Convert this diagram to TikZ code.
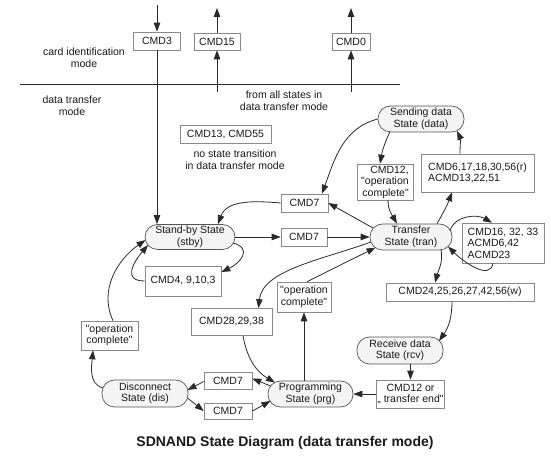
\documentclass[tikz,border=0pt]{standalone}
\usepackage{fontspec}
\newfontfamily\diag{Liberation Sans}
\usetikzlibrary{arrows.meta,calc}
\definecolor{boxgray}{HTML}{8A8A8A}
\definecolor{stategray}{HTML}{555555}
\definecolor{statefill}{HTML}{F4F4F4}
\definecolor{linecol}{HTML}{2A2A2A}
\begin{document}
\begin{tikzpicture}[x=1pt,y=1pt,
  every node/.style={font=\diag\fontsize{10.5}{11.5}\selectfont, text=black!90, inner sep=1pt},
  box/.style={draw=boxgray, line width=0.6pt, align=center},
  state/.style={rectangle, rounded corners=12.5pt, draw=stategray, fill=statefill, line width=0.7pt, align=center},
  arr/.style={draw=linecol, line width=0.8pt, -{Triangle[length=9pt,width=6.5pt]}},
  ln/.style={draw=linecol, line width=0.8pt}]
\useasboundingbox (0,0) rectangle (551,465);

% boxes
\node[box,minimum width=47pt,minimum height=18pt] (cmd3) at (157,424) {CMD3};
\node[box,minimum width=46pt,minimum height=17pt] (cmd15) at (217,423.5) {CMD15};
\node[box,minimum width=38pt,minimum height=17pt] (cmd0) at (351,423.5) {CMD0};
\node[box,minimum width=91pt,minimum height=18pt] (cmd1355) at (225.5,330.5) {CMD13, CMD55};
\node[box,align=right,minimum width=56pt,minimum height=36pt] (cmd12a) at (385,283) {CMD12,\\"operation\\complete"};
\node[box,align=left,minimum width=113pt,minimum height=38pt] (cmd6) at (477.5,292) {CMD6,17,18,30,56(r)\\ACMD13,22,51};
\node[box,align=left,minimum width=82pt,minimum height=40pt] (cmd16) at (503,222) {CMD16, 32, 33\\ACMD6,42\\ACMD23};
\node[box,minimum width=148pt,minimum height=18pt] (cmd24) at (460,173) {CMD24,25,26,27,42,56(w)};
\node[box,minimum width=47pt,minimum height=18pt] (cmd7u) at (304.5,262) {CMD7};
\node[box,minimum width=46pt,minimum height=18pt] (cmd7m) at (304,228) {CMD7};
\node[box,minimum width=76pt,minimum height=30pt] (cmd4) at (183,184) {CMD4, 9,10,3};
\node[box,minimum width=57pt,minimum height=29pt] (opcL) at (109.5,129.5) {"operation\\complete"};
\node[box,minimum width=81pt,minimum height=27pt] (cmd28) at (231.5,143) {CMD28,29,38};
\node[box,minimum width=54pt,minimum height=30pt] (opcM) at (304,168) {"operation\\complete"};
\node[box,minimum width=65pt,minimum height=28pt] (cmd12b) at (410.5,71) {CMD12 or\\„ transfer end"};
\node[box,minimum width=48pt,minimum height=17pt] (cmd7a) at (228,84.5) {CMD7};
\node[box,minimum width=48pt,minimum height=16pt] (cmd7b) at (228,54) {CMD7};

% states
\node[state,minimum width=86pt,minimum height=26pt] (sending) at (421,346) {Sending data\\State (data)};
\node[state,minimum width=82pt,minimum height=26pt] (transfer) at (411,228) {Transfer\\State (tran)};
\node[state,minimum width=90pt,minimum height=25pt] (standby) at (190,228) {Stand-by State\\(stby)};
\node[state,minimum width=86pt,minimum height=27pt] (receive) at (400,114.5) {Receive data\\State (rcv)};
\node[state,minimum width=85pt,minimum height=26pt] (prog) at (310.5,71) {Programming\\State (prg)};
\node[state,minimum width=86pt,minimum height=27pt] (dis) at (145,71.5) {Disconnect\\State (dis)};

% labels
\node[align=center] (cardid) at (84,407) {card identification\\mode};
\node[align=center] (dtm) at (72,359) {data transfer\\mode};
\node[align=center] (fromall) at (284,364) {from all states in\\data transfer mode};
\node[align=center] (nostate) at (235,305) {no state transition\\in data transfer mode};
\node[font=\diag\bfseries\fontsize{14}{16}\selectfont] (title) at (285,22) {SDNAND State Diagram (data transfer mode)};

% free ends
\coordinate (t3) at (157,460);
\coordinate (f15) at (217,373); \coordinate (t15) at (217,457);
\coordinate (f0) at (351,373); \coordinate (t0) at (351,457);
\coordinate (hl) at (20,381); \coordinate (hr) at (400,381);

% connectors
\draw[ln] (hl) -- (hr);
\draw[arr] (t3) -- (cmd3.north);
\draw[arr] (cmd3.south) -- (cmd3.south |- standby.north);
\draw[arr] (f15) -- (cmd15.south);
\draw[arr] (cmd15.north) -- (t15);
\draw[arr] (f0) -- (cmd0.south);
\draw[arr] (cmd0.north) -- (t0);

\draw[arr] (sending.west) to[out=195,in=70] ([xshift=17.5pt]cmd7u.north);
\draw[arr] (cmd7u.west) to[out=175,in=70] ([xshift=28pt]standby.north);
\draw[arr] ([shift={(-38,9)}]transfer.center) -- (cmd7u.east);
\draw[arr] (standby.east) -- (cmd7m.west);
\draw[arr] (cmd7m.east) -- (transfer.west);
\draw[arr] ([shift={(-31,-12.5)}]sending.center) to[out=245,in=80] ([xshift=-5pt]cmd12a.north);
\draw[arr] ([xshift=3pt]cmd12a.south) to[out=-90,in=120] ([xshift=-14pt]transfer.north);
\draw[arr] ([xshift=26pt]transfer.north) to[out=60,in=-110] ([xshift=-25.5pt]cmd6.south);
\draw[arr] ([xshift=-17.5pt]cmd6.north) to[out=90,in=-65] ([shift={(36,-12)}]sending.center);
\draw[arr] ([shift={(39,6)}]transfer.center) to[out=75,in=150] ([xshift=-11pt]cmd16.north);
\draw[arr] ([xshift=-10pt]cmd16.south) to[out=-100,in=-45] ([shift={(37,-9.5)}]transfer.center);
\draw[arr] ([shift={(30,-12.5)}]transfer.center) to[out=-80,in=75] ([xshift=-25pt]cmd24.north);
\draw[arr] ([xshift=-8pt]cmd24.south) to[out=-90,in=55] ([shift={(39,9.5)}]receive.center);
\draw[arr] (cmd12b.north |- receive.south) -- (cmd12b.north);
\draw[arr] (cmd12b.west) -- (prog.east);
\draw[arr] (opcM.south |- prog.north) -- (opcM.south);
\draw[arr] ([xshift=3pt]opcM.north) -- ([shift={(-35.5,-10.6)}]transfer.center);
\draw[arr] ([shift={(-40,-5)}]transfer.center) .. controls +(-50,-18) and +(4,38) .. ([xshift=27pt]cmd28.north);
\draw[arr] ([xshift=11.5pt]cmd28.south) to[out=-80,in=150] ([shift={(-35.5,11.5)}]prog.center);
\draw[arr] ([shift={(-40,8)}]prog.center) -- ([yshift=2pt]cmd7a.east);
\draw[arr] ([yshift=-1pt]cmd7a.west) -- ([shift={(42.5,3.5)}]dis.center);
\draw[arr] ([shift={(42.5,-4.5)}]dis.center) -- (cmd7b.west);
\draw[arr] (cmd7b.east) -- ([shift={(-40,-7)}]prog.center);
\draw[arr] ([shift={(-42,5.5)}]dis.center) to[out=165,in=-95] ([xshift=-16.5pt]opcL.south);
\draw[arr] ([xshift=3.5pt]opcL.north) to[out=115,in=215] ([shift={(-44.5,-3)}]standby.center);
\draw[arr] (cmd4.west) to[out=180,in=230,looseness=1.6] ([shift={(-42,-8)}]standby.center);
\draw[arr] ([shift={(43,-6)}]standby.center) to[out=-15,in=25,looseness=1.7] ([yshift=9pt]cmd4.east);
\end{tikzpicture}
\end{document}
